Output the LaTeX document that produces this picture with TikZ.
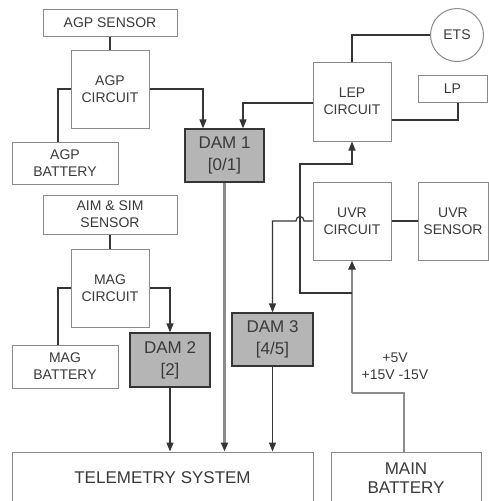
\documentclass[tikz,border=0pt]{standalone}
\usepackage{fontspec}
\setmainfont{Liberation Sans}
\usetikzlibrary{arrows.meta}
\definecolor{txt}{HTML}{3A3A3A}
\definecolor{edge}{HTML}{8A8A8A}
\definecolor{damfill}{HTML}{B5B5B5}
\definecolor{wire}{HTML}{353535}
\definecolor{feed}{HTML}{8C8C8C}
\begin{document}
\begin{tikzpicture}[x=1pt,y=-1pt,
  every node/.style={font=\fontsize{14}{17}\selectfont,text=txt,align=center,inner sep=0pt},
  block/.style={draw=edge,line width=1pt,fill=white},
  dam/.style={draw=wire,line width=1.2pt,fill=damfill,font=\fontsize{17}{22}\selectfont},
  line/.style={draw=wire,line width=1.2pt},
  pwr/.style={draw=feed,line width=2.4pt},
  arr/.style={-{Triangle[length=9pt,width=7pt,color=wire]}}]
\useasboundingbox (0,0) rectangle (489,501);
% sensors and circuits
\node[block,minimum width=134,minimum height=27] (agps) at (110,22.5) {AGP SENSOR};
\node[block,minimum width=78,minimum height=78] (agpc) at (110,89) {AGP\\CIRCUIT};
\node[block,minimum width=106,minimum height=42] (agpb) at (65,163) {AGP\\BATTERY};
\node[block,minimum width=134,minimum height=39] (aims) at (110,214.5) {AIM \& SIM\\SENSOR};
\node[block,minimum width=78,minimum height=78] (magc) at (110,288) {MAG\\CIRCUIT};
\node[block,minimum width=106,minimum height=43] (magb) at (65,366.5) {MAG\\BATTERY};
\node[block,minimum width=78,minimum height=79] (lepc) at (352,101.5) {LEP\\CIRCUIT};
\node[block,circle,minimum size=53] (ets) at (457,35) {ETS};
\node[block,minimum width=69,minimum height=27] (lp) at (452.5,88.5) {LP};
\node[block,minimum width=78,minimum height=78] (uvrc) at (352,221) {UVR\\CIRCUIT};
\node[block,minimum width=70,minimum height=78] (uvrs) at (453,221) {UVR\\SENSOR};
% data acquisition
\node[dam,minimum width=79,minimum height=53] (dam1) at (224.5,155.5) {DAM 1\\{[0/1]}};
\node[dam,minimum width=80,minimum height=54] (dam2) at (170,360) {DAM 2\\{[2]}};
\node[dam,minimum width=81,minimum height=53] (dam3) at (272.5,339.5) {DAM 3\\{[4/5]}};
\node[block,minimum width=301,minimum height=52,font=\fontsize{17}{19}\selectfont] (tel) at (162.5,478) {TELEMETRY SYSTEM};
\node[block,minimum width=150,minimum height=52,font=\fontsize{17}{19}\selectfont] (mainb) at (406,478) {MAIN\\BATTERY};
\node (volt) at (395,366) {+5V\\+15V -15V};
% bends
\coordinate (pj) at (352,393);
\coordinate (tap) at (352,293);
\coordinate (lepbend) at (300,164);
\coordinate (hop) at (lepbend |- uvrc.west);
% connectors
\draw[line] (agps.south) -- (agpc.north);
\draw[line] (agpc.west) -| ([xshift=-7pt]agpb.north);
\draw[line,arr] (agpc.east) -| ([xshift=-21.5pt]dam1.north);
\draw[line,arr] ([yshift=-1.5pt]lepc.west) -| ([xshift=18.5pt]dam1.north);
\draw[line] (lepc.north) |- (ets.west);
\draw[line] ([xshift=5.5pt]lp.south) |- ([yshift=-18.5pt]lepc.east);
\draw[line] (uvrc.east) -- (uvrs.west);
\draw[line] (aims.south) -- (magc.north);
\draw[line] (magc.west) -| ([xshift=-7pt]magb.north);
\draw[line,arr] (magc.east) -| (dam2.north);
\draw[pwr] ([xshift=-2pt]mainb.north) |- (pj);
\draw[pwr,arr] (pj) -- (uvrc.south);
\draw[line,arr] (tap) -| (lepbend) -| (lepc.south);
\draw[line,arr] (uvrc.west) -- ([xshift=4pt]hop)
  .. controls ([xshift=4pt,yshift=6pt]hop) and ([xshift=-4pt,yshift=6pt]hop) .. ([xshift=-4pt]hop)
  -| (dam3.north);
\draw[pwr,arr] (dam1.south) -- (dam1.south |- tel.north);
\draw[line,arr] (dam2.south) -- (dam2.south |- tel.north);
\draw[line,arr] (dam3.south) -- (dam3.south |- tel.north);
\end{tikzpicture}
\end{document}
